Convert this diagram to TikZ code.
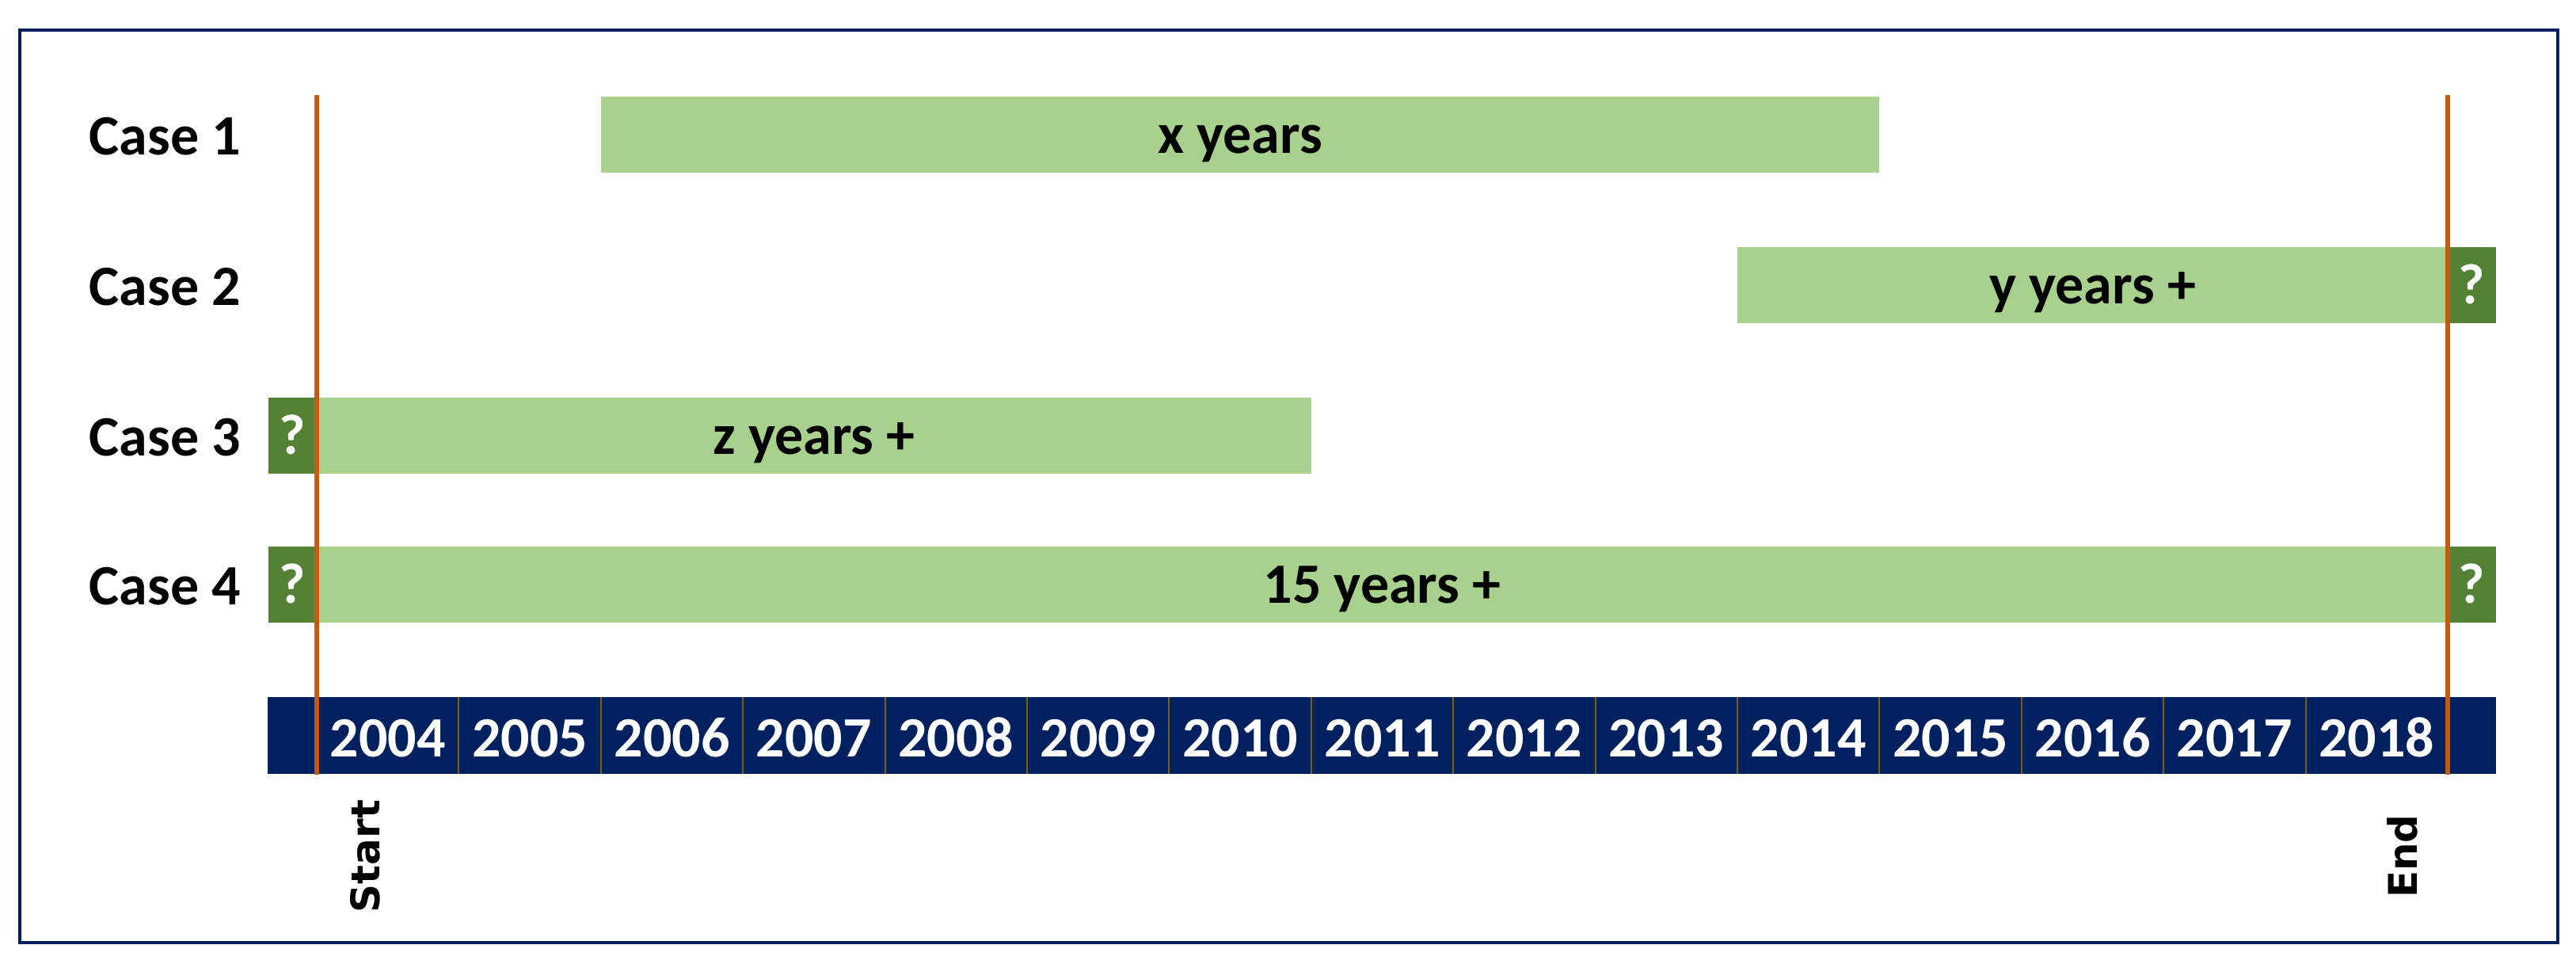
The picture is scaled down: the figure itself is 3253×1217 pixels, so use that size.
\documentclass[tikz,border=0pt]{standalone}
\usepackage{fontspec}
\setmainfont{Carlito}
\newfontfamily\dvsans{DejaVu Sans}
\definecolor{lgreen}{HTML}{A9D18E}
\definecolor{dgreen}{HTML}{548235}
\definecolor{navy}{HTML}{002060}
\definecolor{orng}{HTML}{C55A11}
\definecolor{gold}{HTML}{7F6000}
\begin{document}
\begin{tikzpicture}[x=0.25pt,y=-0.25pt,
  txt/.style={font=\bfseries\fontsize{18}{20}\selectfont},
  capfix/.style={text height=11.6pt, text depth=0pt},
  lbar/.style={fill=lgreen, draw=none, inner sep=0pt, minimum height=24pt, txt, capfix},
  qbox/.style={fill=dgreen, draw=none, inner sep=0pt, minimum height=24pt, minimum width=15.25pt, text=white, txt, capfix},
  yearcell/.style={inner sep=0pt, text=white, txt, capfix},
  caselbl/.style={anchor=east, inner sep=0pt, txt, capfix},
  markline/.style={draw=orng, line width=1.5pt},
  sepline/.style={draw=gold, line width=0.5pt},
  sidelbl/.style={rotate=90, inner sep=0pt, font=\dvsans\bfseries\fontsize{12.5}{14}\selectfont}]
\useasboundingbox (0,0) rectangle (3253,1217);
\fill[white] (0,0) rectangle (3253,1217);
% frame
\draw[navy, line width=1pt] (25,38) rectangle (3230,1190);
% case labels
\node[caselbl] (c1) at (305,172) {Case 1};
\node[caselbl] (c2) at (305,362) {Case 2};
\node[caselbl] (c3) at (305,552) {Case 3};
\node[caselbl] (c4) at (305,740) {Case 4};
% bars
\node[lbar, minimum width=403.5pt] (b1) at (1566,170) {x years};
\node[lbar, minimum width=224.25pt] (b2) at (2642.5,360) {y years +};
\node[qbox] (q2) at (3121.5,360) {?};
\node[qbox] (q3) at (369,550) {?};
\node[lbar, minimum width=314pt] (b3) at (1028,550) {z years +};
\node[qbox] (q4l) at (369,738) {?};
\node[lbar, minimum width=672.75pt] (b4) at (1745.5,738) {15 years +};
\node[qbox] (q4r) at (3121.5,738) {?};
% year bar
\node[fill=navy, inner sep=0pt, minimum width=703.5pt, minimum height=24.25pt] (ybar) at (1745,928.5) {};
\foreach \k [count=\i from 0] in {2004,...,2018}{
  \node[yearcell] (y\k) at ({400+179.4*(\i+0.5)},932) {\k};
}
\foreach \k in {1,...,14}{
  \coordinate (s\k t) at ({400+179.4*\k},880);
  \coordinate (s\k b) at ({400+179.4*\k},977);
  \draw[sepline] (s\k t) -- (s\k b);
}
% start / end lines
\coordinate (st) at (400,120);
\coordinate (sb) at (400,978);
\coordinate (et) at (3091,120);
\coordinate (eb) at (3091,978);
\draw[markline] (st) -- (sb);
\draw[markline] (et) -- (eb);
\node[sidelbl] (start) at (461,1081) {Start};
\node[sidelbl] (end) at (3034,1081) {End};
\end{tikzpicture}
\end{document}
